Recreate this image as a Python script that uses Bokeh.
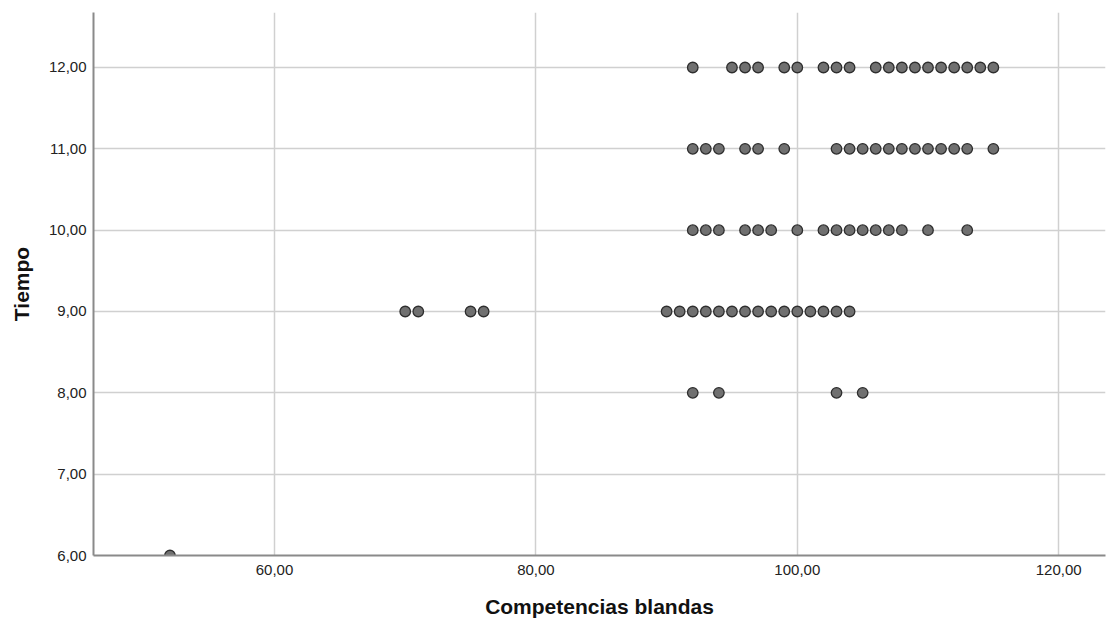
from bokeh.plotting import figure
from bokeh.models import FixedTicker, Range1d
from bokeh.embed import file_html
from bokeh.resources import INLINE

# Data: (Competencias blandas, Tiempo)
row12_x = [92, 95, 96, 97, 99, 100, 102, 103, 104, 106, 107, 108, 109, 110, 111, 112, 113, 114, 115]
row11_x = [92, 93, 94, 96, 97, 99, 103, 104, 105, 106, 107, 108, 109, 110, 111, 112, 113, 115]
row10_x = [92, 93, 94, 96, 97, 98, 100, 102, 103, 104, 105, 106, 107, 108, 110, 113]
row9_x = [70, 71, 75, 76, 90, 91, 92, 93, 94, 95, 96, 97, 98, 99, 100, 101, 102, 103, 104]
row8_x = [92, 94, 103, 105]
row6_x = [52]

x_ticks = [60, 80, 100, 120]
x_tick_labels = ["60,00", "80,00", "100,00", "120,00"]
y_ticks = [6, 7, 8, 9, 10, 11, 12]
y_tick_labels = ["6,00", "7,00", "8,00", "9,00", "10,00", "11,00", "12,00"]

xs = row12_x + row11_x + row10_x + row9_x + row8_x + row6_x
ys = ([12] * len(row12_x) + [11] * len(row11_x) + [10] * len(row10_x)
      + [9] * len(row9_x) + [8] * len(row8_x) + [6] * len(row6_x))

p = figure(width=1108, height=622, output_backend="svg", toolbar_location=None,
           x_range=Range1d(46.15, 123.58), y_range=Range1d(6, 12.676),
           min_border_left=93, min_border_right=3, min_border_top=12, min_border_bottom=67)
p.outline_line_color = None
p.background_fill_color = "white"

p.scatter(xs, ys, size=10.5, fill_color="#707070", line_color="#2e2e2e", line_width=1.3)

font = "Liberation Sans"
for ax in (p.xaxis, p.yaxis):
    ax.major_tick_line_color = None
    ax.minor_tick_line_color = None
    ax.major_tick_out = 0
    ax.major_tick_in = 0
    ax.minor_tick_out = 0
    ax.minor_tick_in = 0
    ax.axis_line_color = "#8a8a8a"
    ax.axis_line_width = 2
    ax.major_label_text_font = font
    ax.major_label_text_font_size = "15px"
    ax.major_label_text_color = "#222222"
    ax.axis_label_text_font = font
    ax.axis_label_text_font_style = "bold"
    ax.axis_label_text_font_size = "21px"
    ax.axis_label_text_color = "#111111"

p.xaxis.ticker = FixedTicker(ticks=x_ticks)
p.xaxis.major_label_overrides = dict(zip(x_ticks, x_tick_labels))
p.yaxis.ticker = FixedTicker(ticks=y_ticks)
p.yaxis.major_label_overrides = dict(zip(y_ticks, y_tick_labels))
p.xaxis.axis_label = "Competencias blandas"
p.yaxis.axis_label = "Tiempo"
p.xaxis.major_label_standoff = 9
p.xaxis.axis_label_standoff = 17
p.yaxis.major_label_standoff = 7
p.yaxis.axis_label_standoff = 13

p.xgrid.grid_line_color = "#d0d0d0"
p.xgrid.grid_line_width = 1.5
p.ygrid.grid_line_color = "#d0d0d0"
p.ygrid.grid_line_width = 1.5

open("out.html", "w").write(file_html(p, INLINE))
